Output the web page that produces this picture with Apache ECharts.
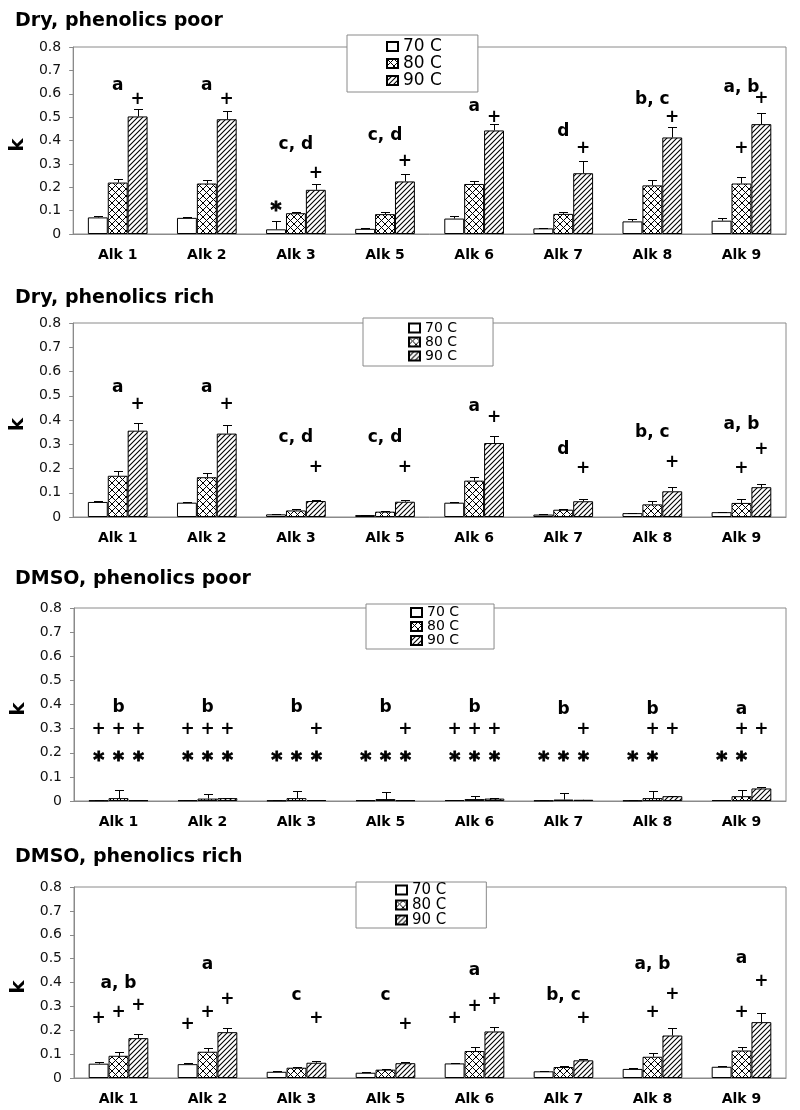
<!DOCTYPE html>
<html><head><meta charset="utf-8">
<script src="https://cdn.jsdelivr.net/npm/echarts@6/dist/echarts.min.js"></script>
<style>html,body{margin:0;padding:0;background:#fff}#c{width:800px;height:1110px}</style>
</head><body><div id="c"></div>
<script>
// ---------- DATA ----------
const categories = ['Alk 1','Alk 2','Alk 3','Alk 5','Alk 6','Alk 7','Alk 8','Alk 9'];
const temps = ['70 C','80 C','90 C'];
const panelTitles = ['Dry, phenolics poor','Dry, phenolics rich','DMSO, phenolics poor','DMSO, phenolics rich'];

// Dry, phenolics poor
const dryPoor70 = [0.071, 0.069, 0.020, 0.022, 0.066, 0.024, 0.054, 0.057];
const dryPoor70Err = [0.008, 0.003, 0.037, 0.002, 0.010, 0.002, 0.010, 0.010];
const dryPoor80 = [0.220, 0.216, 0.089, 0.085, 0.214, 0.086, 0.208, 0.216];
const dryPoor80Err = [0.014, 0.016, 0.007, 0.007, 0.011, 0.007, 0.024, 0.027];
const dryPoor90 = [0.503, 0.491, 0.189, 0.225, 0.443, 0.260, 0.413, 0.470];
const dryPoor90Err = [0.031, 0.036, 0.026, 0.032, 0.026, 0.053, 0.046, 0.046];
const dryPoorLetters = ['a','a','c, d','c, d','a','d','b, c','a, b'];
const dryPoorLetterY = [0.634, 0.634, 0.381, 0.42, 0.545, 0.44, 0.576, 0.628];
const dryPoorPlus = [[0,2,0.574],[1,2,0.574],[2,2,0.26],[3,2,0.31],[4,2,0.499],[5,2,0.366],[6,2,0.499],[7,2,0.578],[7,1,0.366]];
const dryPoorStar = [[2,0,0.117]];

// Dry, phenolics rich
const dryRich70 = [0.062, 0.059, 0.011, 0.008, 0.059, 0.010, 0.016, 0.020];
const dryRich70Err = [0.002, 0.002, 0.001, 0.001, 0.002, 0.001, 0.002, 0.002];
const dryRich80 = [0.170, 0.164, 0.027, 0.022, 0.150, 0.030, 0.052, 0.058];
const dryRich80Err = [0.018, 0.018, 0.005, 0.003, 0.014, 0.004, 0.014, 0.015];
const dryRich90 = [0.356, 0.344, 0.066, 0.063, 0.305, 0.065, 0.106, 0.123];
const dryRich90Err = [0.030, 0.034, 0.005, 0.006, 0.027, 0.010, 0.016, 0.015];
const dryRichLetters = ['a','a','c, d','c, d','a','d','b, c','a, b'];
const dryRichLetterY = [0.532, 0.532, 0.326, 0.326, 0.455, 0.277, 0.35, 0.38];
const dryRichPlus = [[0,2,0.463],[1,2,0.463],[2,2,0.202],[3,2,0.202],[4,2,0.41],[5,2,0.20],[6,2,0.226],[7,2,0.28],[7,1,0.20]];
const dryRichStar = [];

// DMSO, phenolics poor
const dmsoPoor70 = [0.002, 0.003, 0.002, 0.003, 0.004, 0.002, 0.002, 0.004];
const dmsoPoor70Err = [0.001, 0.001, 0.001, 0.001, 0.001, 0.001, 0.001, 0.001];
const dmsoPoor80 = [0.012, 0.010, 0.012, 0.008, 0.008, 0.006, 0.012, 0.020];
const dmsoPoor80Err = [0.032, 0.020, 0.028, 0.029, 0.012, 0.029, 0.028, 0.024];
const dmsoPoor90 = [0.003, 0.012, 0.004, 0.003, 0.010, 0.005, 0.020, 0.052];
const dmsoPoor90Err = [0.001, 0.002, 0.001, 0.001, 0.002, 0.001, 0.002, 0.004];
const dmsoPoorLetters = ['b','b','b','b','b','b','b','a'];
const dmsoPoorLetterY = [0.388, 0.388, 0.388, 0.388, 0.388, 0.38, 0.38, 0.38];
const dmsoPoorPlus = [[0,0,0.294],[0,1,0.294],[0,2,0.294],[1,0,0.294],[1,1,0.294],[1,2,0.294],[2,2,0.294],[3,2,0.294],
  [4,0,0.294],[4,1,0.294],[4,2,0.294],[5,2,0.294],[6,1,0.294],[6,2,0.294],[7,1,0.294],[7,2,0.294]];
const dmsoPoorStar = [[0,0,0.183],[0,1,0.183],[0,2,0.183],[1,0,0.183],[1,1,0.183],[1,2,0.183],[2,0,0.183],[2,1,0.183],[2,2,0.183],
  [3,0,0.183],[3,1,0.183],[3,2,0.183],[4,0,0.183],[4,1,0.183],[4,2,0.183],[5,0,0.183],[5,1,0.183],[5,2,0.183],
  [6,0,0.183],[6,1,0.183],[7,0,0.183],[7,1,0.183]];

// DMSO, phenolics rich
const dmsoRich70 = [0.060, 0.058, 0.026, 0.022, 0.061, 0.028, 0.038, 0.047];
const dmsoRich70Err = [0.007, 0.004, 0.003, 0.002, 0.002, 0.002, 0.002, 0.003];
const dmsoRich80 = [0.093, 0.110, 0.043, 0.035, 0.113, 0.046, 0.089, 0.115];
const dmsoRich80Err = [0.014, 0.015, 0.003, 0.004, 0.017, 0.004, 0.015, 0.014];
const dmsoRich90 = [0.167, 0.192, 0.064, 0.062, 0.195, 0.074, 0.178, 0.234];
const dmsoRich90Err = [0.018, 0.019, 0.006, 0.004, 0.019, 0.006, 0.032, 0.039];
const dmsoRichLetters = ['a, b','a','c','c','a','b, c','a, b','a'];
const dmsoRichLetterY = [0.397, 0.476, 0.345, 0.345, 0.449, 0.345, 0.476, 0.50];
const dmsoRichPlus = [[0,0,0.248],[0,1,0.275],[0,2,0.302],[1,0,0.223],[1,1,0.274],[1,2,0.327],[2,2,0.248],[3,2,0.223],
  [4,0,0.248],[4,1,0.30],[4,2,0.327],[5,2,0.248],[6,1,0.274],[6,2,0.35],[7,1,0.274],[7,2,0.403]];
const dmsoRichStar = [];

// ---------- PATTERNS ----------
function hatchPattern(){
  const p = 5, c = document.createElement('canvas'); c.width = p; c.height = p;
  const g = c.getContext('2d'); g.fillStyle = '#fff'; g.fillRect(0,0,p,p);
  g.strokeStyle = '#000'; g.lineWidth = 1.1; g.beginPath();
  for (const o of [-p, 0, p]) { g.moveTo(o - 1, p + 1); g.lineTo(o + p + 1, -1); }
  g.stroke(); return c;
}
function crossPattern(){
  const p = 7, c = document.createElement('canvas'); c.width = p; c.height = p;
  const g = c.getContext('2d'); g.fillStyle = '#fff'; g.fillRect(0,0,p,p);
  g.strokeStyle = '#000'; g.lineWidth = 1; g.beginPath();
  for (const o of [-p, 0, p]) {
    g.moveTo(o - 1, -1); g.lineTo(o + p + 1, p + 1);
    g.moveTo(o - 1, p + 1); g.lineTo(o + p + 1, -1);
  }
  g.stroke(); return c;
}
const fills = ['#ffffff', {image: crossPattern(), repeat: 'repeat'}, {image: hatchPattern(), repeat: 'repeat'}];

// ---------- LAYOUT ----------
const BAR_FRAC = 0.67;
const panels = [
  {v:[dryPoor70,dryPoor80,dryPoor90], e:[dryPoor70Err,dryPoor80Err,dryPoor90Err], L:dryPoorLetters, LY:dryPoorLetterY, P:dryPoorPlus, S:dryPoorStar,
   grid:{left:71, top:47, width:715, height:187}, titleTop:11.5,
   legend:{left:347, top:35, padding:[3,36,3,39], fs:17, lh:17}},
  {v:[dryRich70,dryRich80,dryRich90], e:[dryRich70Err,dryRich80Err,dryRich90Err], L:dryRichLetters, LY:dryRichLetterY, P:dryRichPlus, S:dryRichStar,
   grid:{left:70, top:323, width:716, height:194}, titleTop:289,
   legend:{left:363, top:318, padding:[3,36,3,45], fs:14, lh:13}},
  {v:[dmsoPoor70,dmsoPoor80,dmsoPoor90], e:[dmsoPoor70Err,dmsoPoor80Err,dmsoPoor90Err], L:dmsoPoorLetters, LY:dmsoPoorLetterY, P:dmsoPoorPlus, S:dmsoPoorStar,
   grid:{left:74, top:608, width:712, height:193}, titleTop:569.5,
   legend:{left:366, top:604, padding:[1.5,35,1.5,44], fs:14, lh:14}},
  {v:[dmsoRich70,dmsoRich80,dmsoRich90], e:[dmsoRich70Err,dmsoRich80Err,dmsoRich90Err], L:dmsoRichLetters, LY:dmsoRichLetterY, P:dmsoRichPlus, S:dmsoRichStar,
   grid:{left:74, top:887, width:712, height:191}, titleTop:847.5,
   legend:{left:356, top:882, padding:[0.5,40,0.5,39], fs:15, lh:15}}
];

const AX = '#8a8a8a';
const option = {
  animation: false,
  backgroundColor: '#fff',
  title: [], legend: [], grid: [], xAxis: [], yAxis: [], series: []
};

panels.forEach((pn, gi) => {
  option.title.push({text: panelTitles[gi], left: 15, top: pn.titleTop, padding: 0,
    textStyle: {fontFamily: 'DejaVu Sans', fontWeight: 'bold', fontSize: 19, color: '#000'}});
  option.grid.push(Object.assign({show: true, borderColor: AX, borderWidth: 1, backgroundColor: 'transparent'}, pn.grid));
  option.legend.push({data: temps, orient: 'vertical', left: pn.legend.left, top: pn.legend.top,
    padding: pn.legend.padding, itemGap: 0, itemWidth: 11, itemHeight: 9, icon: 'rect',
    selectedMode: false, backgroundColor: '#fff', borderColor: AX, borderWidth: 1, z: 10,
    textStyle: {fontFamily: 'DejaVu Sans', fontSize: pn.legend.fs, lineHeight: pn.legend.lh, color: '#000'}});
  option.xAxis.push({type: 'category', gridIndex: gi, data: categories,
    axisLine: {lineStyle: {color: AX}}, axisTick: {length: 4, lineStyle: {color: AX}},
    axisLabel: {margin: 14, fontFamily: 'DejaVu Sans', fontWeight: 'bold', fontSize: 14, color: '#000'}});
  option.yAxis.push({type: 'value', gridIndex: gi, min: 0, max: 0.8, interval: 0.1,
    name: 'k', nameLocation: 'middle', nameGap: 44, nameRotate: 90,
    nameTextStyle: {fontFamily: 'DejaVu Sans', fontWeight: 'bold', fontSize: 20, color: '#000', padding: [0, 9, 0, 0]},
    splitLine: {show: false},
    axisLine: {show: true, lineStyle: {color: AX}}, axisTick: {show: true, length: 4, lineStyle: {color: AX}},
    axisLabel: {margin: 12, fontFamily: 'DejaVu Sans', fontSize: 14, color: '#111',
      formatter: v => v === 0 ? '0' : v.toFixed(1)}});

  // bars
  for (let t = 0; t < 3; t++) {
    option.series.push({type: 'bar', name: temps[t], xAxisIndex: gi, yAxisIndex: gi,
      data: pn.v[t], barGap: 0, barCategoryGap: '33%',
      itemStyle: {color: fills[t], borderColor: '#000', borderWidth: 1}});
  }
  // error bars (upper whisker)
  for (let t = 0; t < 3; t++) {
    const k = t;
    option.series.push({type: 'custom', xAxisIndex: gi, yAxisIndex: gi, silent: true, z: 3,
      data: pn.v[t].map((v, i) => [i, v, pn.e[t][i]]),
      encode: {x: 0, y: 1},
      renderItem: (params, api) => {
        const ci = api.value(0), v = api.value(1), e = api.value(2);
        const b = api.coord([ci, v]), tp = api.coord([ci, v + e]);
        const bw = api.size([1, 0])[0] * BAR_FRAC / 3;
        const x = Math.round(b[0] + (k - 1) * bw) + 0.5;
        const ty = Math.round(tp[1]) + 0.5;
        return {type: 'group', children: [
          {type: 'line', shape: {x1: x, y1: b[1], x2: x, y2: ty}, style: {stroke: '#000', lineWidth: 1}},
          {type: 'line', shape: {x1: x - 4.5, y1: ty, x2: x + 4.5, y2: ty}, style: {stroke: '#000', lineWidth: 1}}
        ]};
      }});
  }
  // annotations
  const items = [];
  pn.L.forEach((txt, i) => items.push({cat: i, y: pn.LY[i], bar: -1, kind: 0, text: txt}));
  pn.P.forEach(a => items.push({cat: a[0], y: a[2], bar: a[1], kind: 1, text: '+'}));
  pn.S.forEach(a => items.push({cat: a[0], y: a[2], bar: a[1], kind: 2, text: '*'}));
  option.series.push({type: 'custom', xAxisIndex: gi, yAxisIndex: gi, silent: true, z: 5, clip: false,
    data: items.map(it => [it.cat, it.y]), encode: {x: 0, y: 1},
    renderItem: (params, api) => {
      const it = items[params.dataIndex];
      const p = api.coord([api.value(0), api.value(1)]);
      const bw = api.size([1, 0])[0] * BAR_FRAC / 3;
      const dx = it.bar < 0 ? 0 : (it.bar - 1) * bw;
      const star = it.kind === 2;
      const fs = star ? 21 : 17;
      return {type: 'text', x: p[0] + dx, y: p[1] + (star ? 5 : 0),
        style: {text: it.text, fill: '#000', align: 'center', verticalAlign: 'middle',
          font: 'bold ' + fs + 'px "DejaVu Sans"',
          stroke: star ? '#000' : null, lineWidth: star ? 0.9 : 0}};
    }});
});

const chart = echarts.init(document.getElementById('c'), null, {renderer: 'canvas'});
chart.setOption(option);
</script></body></html>
